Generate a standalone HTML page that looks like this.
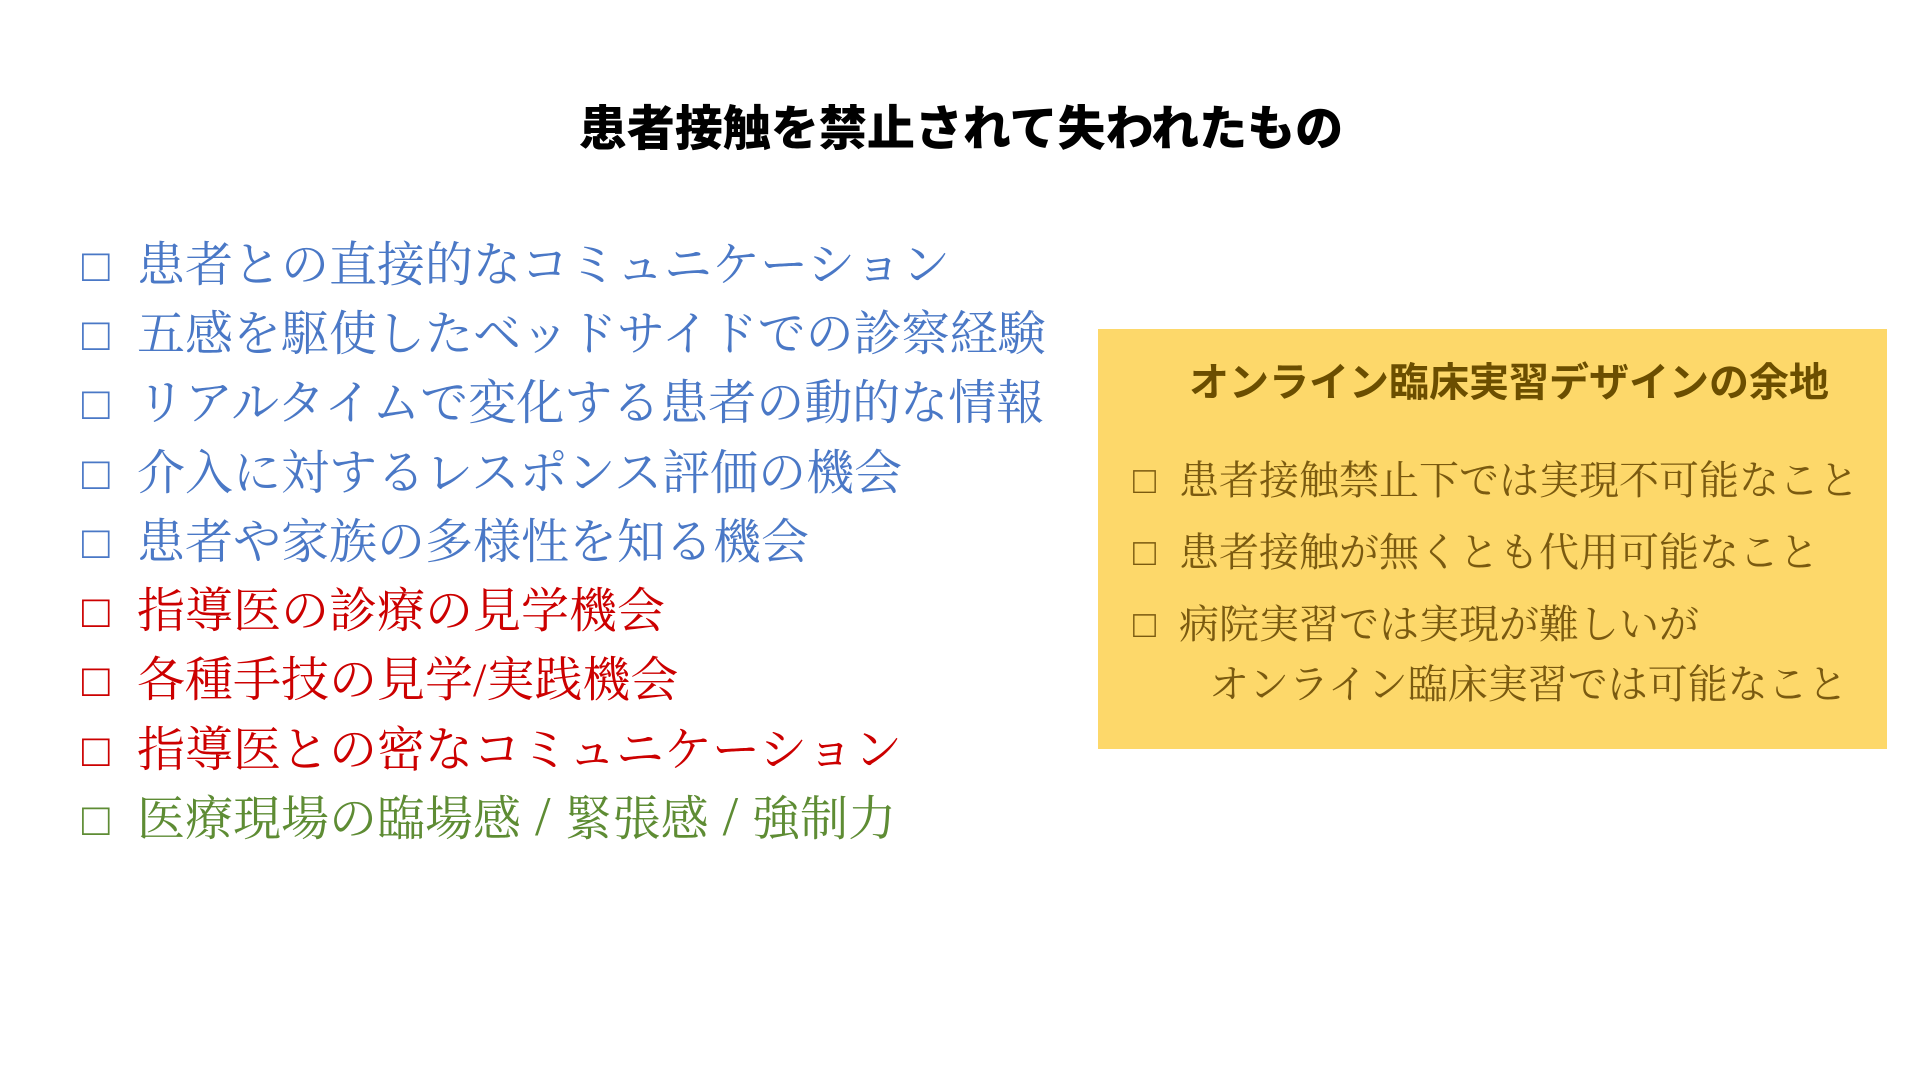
<!DOCTYPE html>
<html><head><meta charset="utf-8"><style>
html,body{margin:0;padding:0;background:#fff;}
body{width:1920px;height:1080px;position:relative;overflow:hidden;font-family:"Liberation Serif","Noto Serif CJK SC",serif;}
.t{position:absolute;white-space:nowrap;line-height:1;}
.title{left:0;width:1922px;text-align:center;top:106px;font-family:"Liberation Sans","Noto Sans CJK JP",sans-serif;font-weight:900;font-size:48px;color:#000;}
.l{left:137px;font-size:48px;}
.c{left:82px;font-size:46px;}
.b{color:#4a78c6;} .r{color:#cc0000;} .g{color:#5e8c34;}
.box{position:absolute;left:1098px;top:329px;width:789px;height:420px;background:#fdd86a;}
.bt{left:1189px;top:363px;font-family:"Liberation Sans","Noto Sans CJK JP",sans-serif;font-weight:700;font-size:40px;color:#6b4e00;}
.y{left:1179px;font-size:40px;color:#7a5a10;}
.yc{left:1133px;font-size:38px;color:#7a5a10;}
</style></head><body>
<div class="t title">患者接触を禁止されて失われたもの</div>

<div class="t c b" style="top:243px">□</div><div class="t l b" style="top:242px">患者との直接的なコミュニケーション</div>
<div class="t c b" style="top:312px">□</div><div class="t l b" style="top:311px">五感を駆使したベッドサイドでの診察経験</div>
<div class="t c b" style="top:381px">□</div><div class="t l b" style="top:380px">リアルタイムで変化する患者の動的な情報</div>
<div class="t c b" style="top:451px">□</div><div class="t l b" style="top:450px">介入に対するレスポンス評価の機会</div>
<div class="t c b" style="top:520px">□</div><div class="t l b" style="top:519px">患者や家族の多様性を知る機会</div>
<div class="t c r" style="top:589px">□</div><div class="t l r" style="top:588px">指導医の診療の見学機会</div>
<div class="t c r" style="top:658px">□</div><div class="t l r" style="top:657px">各種手技の見学/実践機会</div>
<div class="t c r" style="top:728px">□</div><div class="t l r" style="top:727px">指導医との密なコミュニケーション</div>
<div class="t c g" style="top:797px">□</div><div class="t l g" style="top:796px;word-spacing:2px">医療現場の臨場感 <span style="font-size:56px;line-height:0">/</span> 緊張感 <span style="font-size:56px;line-height:0">/</span> 強制力</div>

<div class="box"></div>
<div class="t bt">オンライン臨床実習デザインの余地</div>
<div class="t yc" style="top:462px">□</div><div class="t y" style="top:461px">患者接触禁止下では実現不可能なこと</div>
<div class="t yc" style="top:534px">□</div><div class="t y" style="top:533px">患者接触が無くとも代用可能なこと</div>
<div class="t yc" style="top:606px">□</div><div class="t y" style="top:605px">病院実習では実現が難しいが</div>
<div class="t y" style="top:665px;left:1209px">オンライン臨床実習では可能なこと</div>
</body></html>
